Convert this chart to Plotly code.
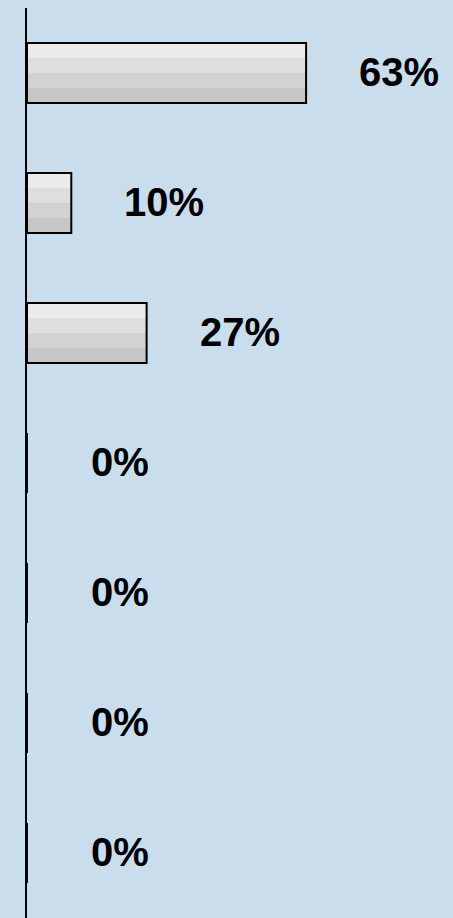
import plotly.graph_objects as go

categories = ["A", "B", "C", "D", "E", "F", "G"]
values = [63, 10, 27, 0, 0, 0, 0]
labels = ["63%", "10%", "27%", "0%", "0%", "0%", "0%"]

band_colors = ["#EBEBEB", "#DEDEDE", "#D2D2D2", "#C6C6C6"]
bar_w = 60 / 130
band_w = bar_w / len(band_colors)

fig = go.Figure()
for k, c in enumerate(band_colors):
    fig.add_trace(go.Bar(
        y=categories, x=values, orientation="h",
        width=band_w, offset=-bar_w / 2 + k * band_w,
        marker=dict(color=c, line=dict(width=0)),
        hoverinfo="skip", showlegend=False,
    ))
fig.add_trace(go.Bar(
    y=categories, x=values, orientation="h",
    width=bar_w, offset=-bar_w / 2,
    marker=dict(color="rgba(0,0,0,0)", line=dict(color="black", width=2)),
    hoverinfo="skip", showlegend=False,
))

for cat, v, t in zip(categories, values, labels):
    fig.add_annotation(x=v, y=cat, text=t, xshift=93, yshift=1, showarrow=False,
                       xanchor="center", yanchor="middle",
                       font=dict(family="Arial, Liberation Sans", size=40, color="black"))

fig.update_layout(
    width=453, height=918,
    margin=dict(l=27, r=0, t=8, b=0),
    paper_bgcolor="#CADDED", plot_bgcolor="#CADDED",
    barmode="overlay",
    font=dict(family="Arial, Liberation Sans"),
    xaxis=dict(range=[0, 426 / 4.43], visible=False, showgrid=False, zeroline=False),
    yaxis=dict(range=[6.5, -0.5], showticklabels=False, showgrid=False, zeroline=False,
               showline=True, linecolor="black", linewidth=2, ticks=""),
)
fig.update_annotations(font_weight="bold")

fig.write_html("out.html", config={"displayModeBar": False},
               post_script="document.body.style.margin='0';document.body.style.overflow='hidden';")
